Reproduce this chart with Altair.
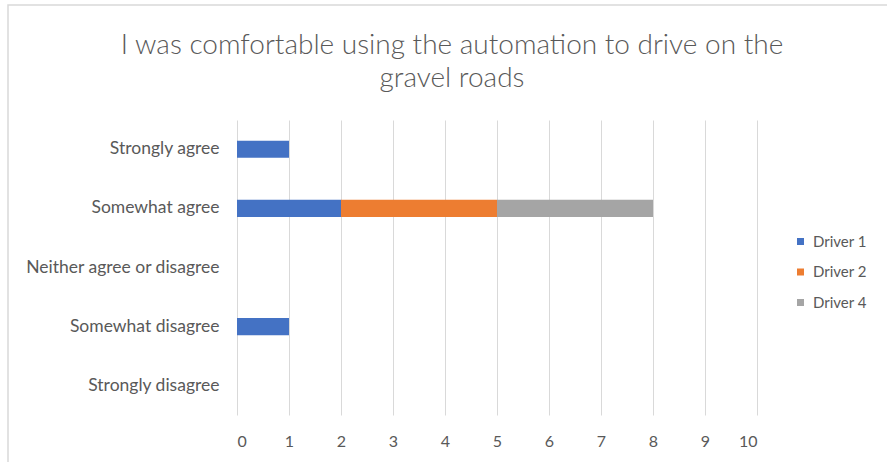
import altair as alt
import pandas as pd

# Survey responses per driver
categories = [
    "Strongly agree",
    "Somewhat agree",
    "Neither agree or disagree",
    "Somewhat disagree",
    "Strongly disagree",
]
drivers = ["Driver 1", "Driver 2", "Driver 4"]
driver_1 = [1, 2, 0, 1, 0]
driver_2 = [0, 3, 0, 0, 0]
driver_4 = [0, 3, 0, 0, 0]
x_ticks = list(range(0, 11))
colors = ["#4472C4", "#ED7D31", "#A5A5A5"]

rows = []
for d_idx, (name, vals) in enumerate(zip(drivers, [driver_1, driver_2, driver_4])):
    for cat, v in zip(categories, vals):
        rows.append({"Response": cat, "Driver": name, "Count": v, "Order": d_idx})
df = pd.DataFrame(rows)

FONT = "Lato"
GRAY = "#595959"

bars = alt.Chart(df).mark_bar().encode(
    y=alt.Y(
        "Response:N",
        sort=categories,
        title=None,
        scale=alt.Scale(paddingInner=0.71, paddingOuter=0.35),
        axis=alt.Axis(
            ticks=False,
            domain=False,
            labelPadding=18,
            labelFontSize=17.5,
            labelLimit=260,
            labelColor=GRAY,
            labelFont=FONT,
            grid=False,
        ),
    ),
    x=alt.X(
        "Count:Q",
        title=None,
        stack="zero",
        scale=alt.Scale(domain=[0, 10], nice=False),
        axis=alt.Axis(
            values=x_ticks,
            ticks=False,
            domain=False,
            grid=True,
            gridColor="#D9D9D9",
            labelPadding=18,
            labelFontSize=16,
            labelColor=GRAY,
            labelFont=FONT,
        ),
    ),
    color=alt.Color(
        "Driver:N",
        scale=alt.Scale(domain=drivers, range=colors),
        legend=alt.Legend(
            title=None,
            orient="none",
            legendX=556,
            legendY=114,
            symbolType="square",
            symbolSize=49,
            symbolStrokeWidth=0,
            labelFontSize=15,
            labelColor=GRAY,
            labelFont=FONT,
            rowPadding=14.5,
            labelOffset=5,
        ),
    ),
    order=alt.Order("Order:Q"),
)

# Light outer frame around the whole chart
frame = alt.Chart(pd.DataFrame({"f": [0]})).mark_rect(
    fill=None, stroke="#D9D9D9", strokeWidth=1.5, clip=False
).encode(
    x=alt.value(-229),
    x2=alt.value(680),
    y=alt.value(-115),
    y2=alt.value(360),
)

chart = alt.layer(frame, bars).properties(
    width=520,
    height=295,
    padding={"left": 237, "top": 120, "right": 130, "bottom": 47},
    autosize=alt.AutoSizeParams(type="none"),
    title=alt.TitleParams(
        text=["I was comfortable using the automation to drive on the", "gravel roads"],
        font=FONT,
        fontSize=28,
        fontWeight=300,
        color=GRAY,
        lineHeight=33,
        anchor="middle",
        dx=-45,
        offset=-89,
    ),
).configure(background="white").configure_view(stroke=None)

chart.save("out.html", embed_options={"renderer": "svg", "actions": False})
